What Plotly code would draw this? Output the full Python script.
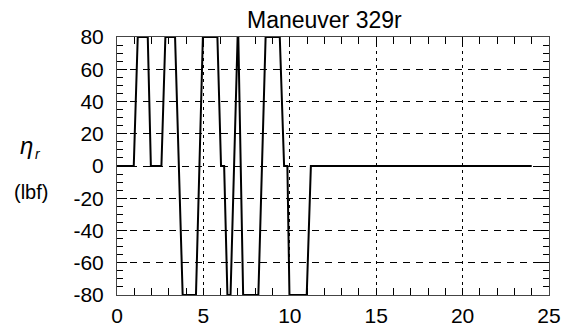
import plotly.graph_objects as go

# Time history of the rudder input (time in s, force in lbf)
time_s = [0.0, 0.97, 1.2, 1.78, 1.96, 2.57, 2.8, 3.36, 3.8, 4.57, 4.97, 5.81, 6.02,
          6.2, 6.39, 6.57, 6.98, 7.02, 7.3, 8.18, 8.6, 9.42, 9.67, 9.86, 9.98,
          10.98, 11.22, 24.0]
eta_r = [0, 0, 80, 80, 0, 0, 80, 80, -80, -80, 80, 80, 0,
         0, -80, -80, 80, 80, -80, -80, 80, 80, 0, 0, -80,
         -80, 0, 0]

x_ticks = [0, 5, 10, 15, 20, 25]
y_ticks = [-80, -60, -40, -20, 0, 20, 40, 60, 80]
y_tick_labels = ["-80", "-60", "-40", "-20", "0", "20", "40", "60", "80"]

fig = go.Figure()
fig.add_trace(go.Scatter(x=time_s, y=eta_r, mode="lines",
                         line=dict(color="black", width=2), showlegend=False))

font = dict(family="Liberation Sans, Arial, sans-serif", size=21, color="black")

fig.update_layout(
    width=564, height=328,
    margin=dict(l=117, r=15, t=37, b=33),
    paper_bgcolor="white", plot_bgcolor="white",
    font=font,
    title=dict(text="Maneuver 329r", x=0.48, xref="paper", xanchor="center",
               y=0.94, yref="container", yanchor="middle", font=dict(size=23)),
    xaxis=dict(range=[0, 25], tickvals=x_ticks, ticks="inside", ticklen=7,
               tickcolor="black", showline=True, linecolor="#444", linewidth=1,
               mirror="allticks", showgrid=True, gridcolor="black", gridwidth=1,
               griddash="3px,4px", zeroline=False, ticklabelstandoff=2,
               automargin=False,
               minor=dict(dtick=1, ticks="inside", ticklen=7, tickcolor="black",
                          showgrid=False)),
    yaxis=dict(range=[-80, 80], tickvals=y_ticks, ticktext=y_tick_labels,
               ticks="inside", ticklen=10,
               tickcolor="black", showline=True, linecolor="#444", linewidth=1,
               mirror="allticks", showgrid=True, gridcolor="black", gridwidth=1,
               griddash="7px,6px", zeroline=False, ticklabelstandoff=8,
               automargin=False,
               minor=dict(dtick=5, ticks="inside", ticklen=6, tickcolor="black",
                          showgrid=False)),
)

# y-axis label: eta with subscript r, and the unit below it
fig.add_annotation(text="<i>η</i>", xref="paper", yref="paper",
                   x=-0.21, y=0.58, xanchor="center", yanchor="middle",
                   showarrow=False, font=dict(size=24))
fig.add_annotation(text="<i>r</i>", xref="paper", yref="paper",
                   x=-0.183, y=0.545, xanchor="center", yanchor="middle",
                   showarrow=False, font=dict(size=14))
fig.add_annotation(text="(lbf)", xref="paper", yref="paper",
                   x=-0.2, y=0.4, xanchor="center", yanchor="middle",
                   showarrow=False, font=dict(size=20))

fig.write_html("out.html")
